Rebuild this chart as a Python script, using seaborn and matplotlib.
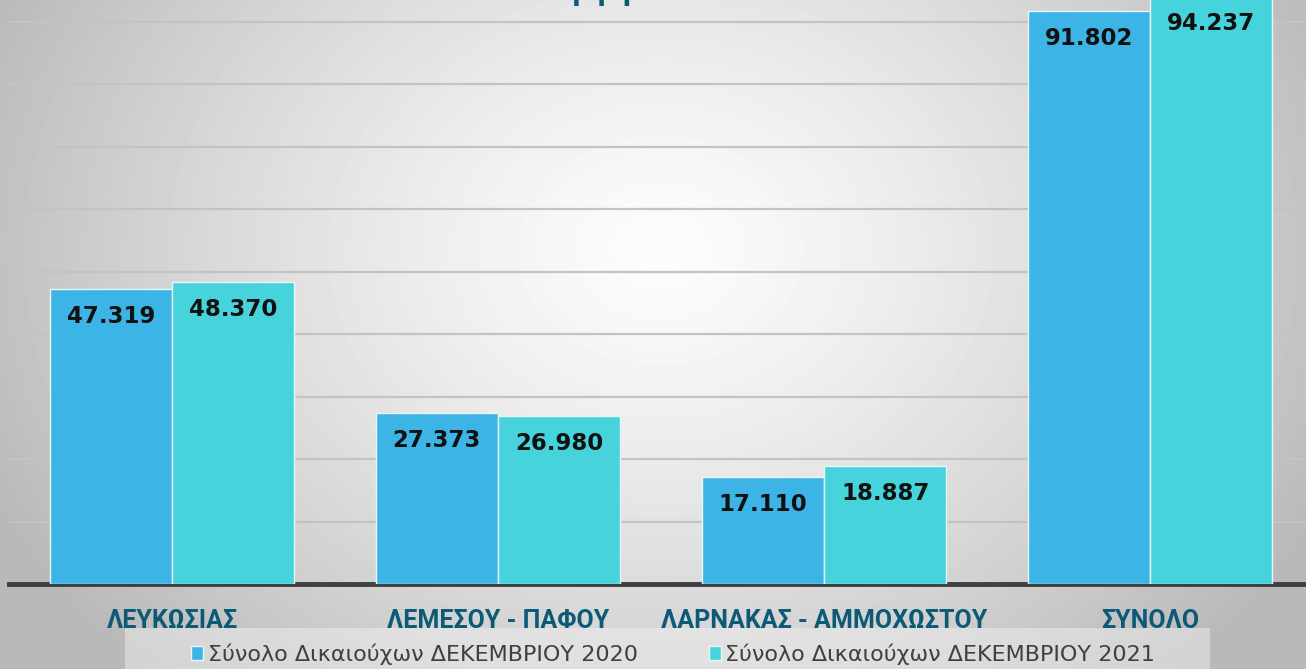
import numpy as np
import pandas as pd
import matplotlib
matplotlib.use("Agg")
import matplotlib.pyplot as plt
from matplotlib.patches import Rectangle
import seaborn as sns

# data
regions = ["ΛΕΥΚΩΣΙΑΣ", "ΛΕΜΕΣΟΥ - ΠΑΦΟΥ", "ΛΑΡΝΑΚΑΣ - ΑΜΜΟΧΩΣΤΟΥ", "ΣΥΝΟΛΟ"]
dec_2020 = [47319, 27373, 17110, 91802]
dec_2021 = [48370, 26980, 18887, 94237]
series = ["Σύνολο Δικαιούχων ΔΕΚΕΜΒΡΙΟΥ 2020", "Σύνολο Δικαιούχων ΔΕΚΕΜΒΡΙΟΥ 2021"]
colors = ["#3cb4e5", "#47d3db"]

df = pd.DataFrame({
    "region": regions * 2,
    "value": dec_2020 + dec_2021,
    "series": [series[0]] * 4 + [series[1]] * 4,
})

sns.set_theme(style="white")
plt.rcParams["font.family"] = ["DejaVu Sans"]

W, H = 1306, 669
fig = plt.figure(figsize=(W / 100, H / 100), dpi=100)

# grey background, lighter in the middle
bg = fig.add_axes([0, 0, 1, 1], zorder=-10)
yy, xx = np.mgrid[0:H, 0:W]
d = np.sqrt(((xx - 660) / 800.0) ** 2 + ((yy - 250) / 640.0) ** 2)
shade = np.clip(252 - 75 * d ** 1.3, 185, 255) / 255.0
bg.imshow(shade, cmap="gray", vmin=0, vmax=1, aspect="auto", interpolation="bilinear")
bg.axis("off")

ax = fig.add_axes([9 / W, 85 / H, 1304 / W, 584 / H])
ax.set_facecolor("none")
sns.barplot(data=df, x="region", y="value", hue="series", palette=colors,
            width=0.75, edgecolor="#e8f6fb", linewidth=1.0, saturation=1,
            ax=ax, zorder=3)

ax.set_xlim(-0.5, 3.5)
ax.set_ylim(0, 93520)
ax.set_yticks(np.arange(0, 100000, 10000))
ax.yaxis.grid(True, color="#c3c3c3", linewidth=1.6, zorder=0)
ax.set_axisbelow(True)
for s in ["top", "right", "left"]:
    ax.spines[s].set_visible(False)
ax.spines["bottom"].set_color("#3f3f3f")
ax.spines["bottom"].set_linewidth(3.5)
ax.set_yticklabels([])
ax.tick_params(axis="y", length=0)
ax.tick_params(axis="x", length=0, pad=27)
ax.set_xlabel("")
ax.set_ylabel("")
for lab in ax.get_xticklabels():
    lab.set_fontweight("bold")
    lab.set_fontsize(18)
    lab.set_color("#0d5a77")
    lab.set_family(["Liberation Sans Narrow", "Roboto", "DejaVu Sans"])
    lab.set_verticalalignment("center")

for cont in ax.containers:
    for bar in cont:
        h = bar.get_height()
        ax.annotate(f"{h / 1000:.3f}", (bar.get_x() + bar.get_width() / 2, h),
                    xytext=(0, -20), textcoords="offset points",
                    ha="center", va="center", fontsize=16.5, fontweight="heavy",
                    color="#111111", annotation_clip=False, zorder=5)

# light box behind the legend
fig.patches.append(Rectangle((125 / W, 0), 1085 / W, 41 / H, transform=fig.transFigure,
                             facecolor="#f4f4f4", alpha=0.45, edgecolor="none", zorder=-5))

leg = ax.legend(loc="center", bbox_to_anchor=(673 / W, 1 - 654 / H),
                bbox_transform=fig.transFigure, ncol=2, frameon=False,
                fontsize=16, handlelength=0.55, handleheight=0.55,
                handletextpad=0.2, columnspacing=3.2, borderaxespad=0.0)
for t in leg.get_texts():
    t.set_color("#404040")

# remnant of the cut-off title
fig.text(602 / W, 1 - 6 / H, "I  I  I", ha="center", va="baseline",
         fontsize=17, fontweight="bold", color="#0d5a77")

fig.savefig("out.png", dpi=100)
